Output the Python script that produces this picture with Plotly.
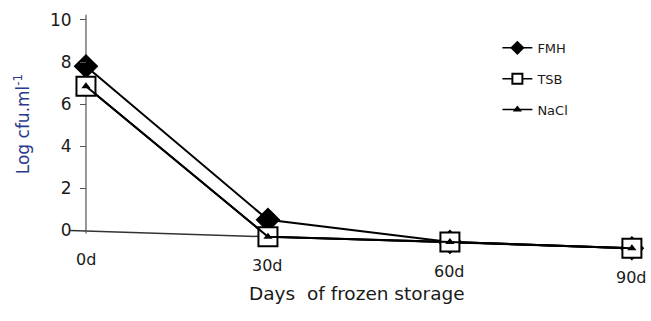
import plotly.graph_objects as go

# ---- data ----
days = [0, 30, 60, 90]
tick_labels = ["0d", "30d", "60d", "90d"]
fmh = [7.8, 0.5, -0.55, -0.85]
tsb = [6.85, -0.3, -0.55, -0.85]
nacl = [6.85, -0.3, -0.55, -0.85]
y_ticks = [0, 2, 4, 6, 8, 10]
# scanned (slightly tilted) baseline of the x axis
axis_x = [-2.6, 93.0]
axis_y = [0.0, -0.89]

FONT = "DejaVu Sans"
TXT = "#1a1a1a"

styles = {
    "FMH": dict(symbol="diamond", color="black"),
    "TSB": dict(symbol="square", color="white", line=dict(color="black", width=2)),
    "NaCl": dict(symbol="triangle-up", color="black"),
}
sizes = {"FMH": 19, "TSB": 19, "NaCl": 8}
legend_sizes = {"FMH": 11, "TSB": 10, "NaCl": 8}

fig = go.Figure()
for name, vals in [("FMH", fmh), ("TSB", tsb), ("NaCl", nacl)]:
    fig.add_trace(go.Scatter(
        x=days, y=vals, name=name, mode="lines+markers", showlegend=False,
        line=dict(color="black", width=2),
        marker=dict(size=sizes[name], **styles[name]),
        cliponaxis=False))
# legend entries (smaller symbols, thin lines as in the original key)
for i, name in enumerate(["FMH", "TSB", "NaCl"]):
    fig.add_trace(go.Scatter(
        x=[None], y=[None], name=name, mode="lines+markers",
        legendgroup=str(i),
        line=dict(color="black", width=1.5),
        marker=dict(size=legend_sizes[name], **styles[name])))

# tilted x-axis baseline
fig.add_shape(type="line", xref="x", yref="y",
              x0=axis_x[0], y0=axis_y[0], x1=axis_x[1], y1=axis_y[1],
              line=dict(color="#333", width=1.5), layer="below")
# y-axis line
fig.add_shape(type="line", xref="x", yref="y",
              x0=0, y0=-0.15, x1=0, y1=10.25,
              line=dict(color="#555", width=1.2), layer="below")

# tick labels following the tilted baseline
slope = (axis_y[1] - axis_y[0]) / (axis_x[1] - axis_x[0])
for d, lab in zip(days, tick_labels):
    yb = axis_y[0] + slope * (d - axis_x[0])
    fig.add_annotation(x=d, y=yb, xref="x", yref="y", text=lab,
                       showarrow=False, yshift=-29,
                       font=dict(family=FONT, size=16, color=TXT))

fig.add_annotation(xref="paper", yref="paper", x=0.519, y=-0.183,
                   text="Days\u00a0 of frozen storage", showarrow=False,
                   font=dict(family=FONT, size=18.5, color=TXT))
fig.add_annotation(xref="paper", yref="paper", x=-0.07, y=0.55,
                   text="Log cfu.ml<sup>-1</sup>", showarrow=False,
                   textangle=-90,
                   font=dict(family=FONT, size=17, color="#2b3a8c"))

fig.update_layout(
    width=651, height=321,
    margin=dict(l=50, r=10, t=10, b=60),
    paper_bgcolor="white", plot_bgcolor="white",
    showlegend=True,
    legend=dict(x=0.757, y=0.92, xanchor="left", yanchor="top",
                bgcolor="rgba(0,0,0,0)", tracegroupgap=11,
                font=dict(family=FONT, size=13, color=TXT)),
    xaxis=dict(range=[-5.93, 91.5], showgrid=False, zeroline=False,
               showline=False, showticklabels=False, ticks=""),
    yaxis=dict(range=[-1.455, 10.33], showgrid=False, zeroline=False,
               showline=False, tickvals=y_ticks, ticks="outside",
               ticklen=6, tickcolor="#555", anchor="free", position=0.061,
               ticklabelstandoff=5,
               tickfont=dict(family=FONT, size=17, color=TXT)),
)

fig.write_html("out.html", config={"displayModeBar": False},
               post_script="document.body.style.margin='0';")
